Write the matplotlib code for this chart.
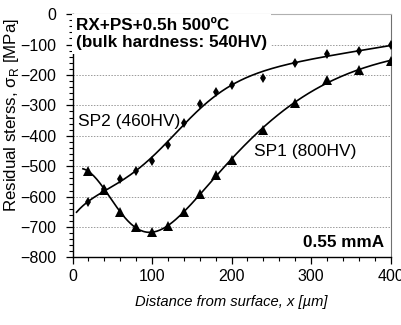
import matplotlib
matplotlib.use("Agg")
import matplotlib.pyplot as plt
import numpy as np
from matplotlib.ticker import MultipleLocator

plt.rcParams['font.family'] = ['Liberation Sans', 'DejaVu Sans']

x_sp2 = [20, 40, 60, 80, 100, 120, 140, 160, 180, 200, 240, 280, 320, 360, 400]
y_sp2 = [-618, -575, -543, -517, -482, -431, -358, -296, -255, -233, -211, -162, -131, -120, -102]

x_sp1 = [20, 40, 60, 80, 100, 120, 140, 160, 180, 200, 240, 280, 320, 360, 400]
y_sp1 = [-515, -579, -650, -701, -717, -697, -650, -590, -530, -478, -381, -291, -217, -184, -153]

yticks = [0, -100, -200, -300, -400, -500, -600, -700, -800]
xticks = [0, 100, 200, 300, 400]
grid_levels = [-100, -200, -300, -400, -500, -600, -700]


def basis(x, c, d, f, kind):
    x = np.asarray(x, float)
    cols = [np.ones_like(x), np.tanh((x - c) / d)]
    if kind == 'exp':
        cols += [np.exp(-x / f), x / 400]
    else:
        cols.append(np.exp(-(x / f) ** 2))
    return np.column_stack(cols)


def fit_curve(x, y, kind, d_min):
    # brute force over the nonlinear parameters, linear least squares for the rest
    best = None
    y = np.asarray(y, float)
    for c in np.linspace(60, 320, 53):
        for d in np.linspace(d_min, 300, 50):
            for f in np.linspace(20, 160, 29):
                A = basis(x, c, d, f, kind)
                coef, *_ = np.linalg.lstsq(A, y, rcond=None)
                err = np.sum((A @ coef - y) ** 2)
                if best is None or err < best[0]:
                    best = (err, c, d, f, coef)
    _, c, d, f, coef = best
    return lambda xx: basis(xx, c, d, f, kind) @ coef


curve_sp2 = fit_curve(x_sp2, y_sp2, 'exp', 75)
curve_sp1 = fit_curve(x_sp1, y_sp1, 'gauss', 30)
xs2 = np.linspace(5, 400, 200)
xs1 = np.linspace(13, 400, 200)

fig = plt.figure(figsize=(4.01, 3.25), dpi=100)
ax = fig.add_axes([0.181, 0.2077, 0.793, 0.7489])

for g in grid_levels:
    ax.axhline(g, color='#9a9a9a', lw=0.7, ls=(0, (1.5, 1.5)), zorder=0)

ax.plot(xs2, curve_sp2(xs2), color='black', lw=1.2, zorder=2)
ax.plot(xs1, curve_sp1(xs1), color='black', lw=1.2, zorder=2)
ax.plot(x_sp2, y_sp2, 'd', color='black', ms=5, mew=0, zorder=3)
ax.plot(x_sp1, y_sp1, '^', color='black', ms=6.5, mew=0, zorder=3)

ax.set_xlim(0, 400)
ax.set_ylim(-800, 0)
ax.set_xticks(xticks)
ax.set_yticks(yticks)
ax.xaxis.set_minor_locator(MultipleLocator(20))
ax.yaxis.set_minor_locator(MultipleLocator(20))
ax.tick_params(which='major', direction='out', length=5, width=0.9, labelsize=11.5)
ax.tick_params(which='minor', direction='out', length=3, width=0.8)
ax.tick_params(axis='x', which='major', pad=3)
ax.tick_params(axis='y', which='major', pad=7)

ax.spines['top'].set_color('#b0b0b0')
ax.spines['top'].set_linewidth(0.8)
ax.spines['right'].set_color('#707070')
ax.spines['left'].set_linewidth(1.0)
ax.spines['bottom'].set_linewidth(1.0)

ax.set_xlabel('Distance from surface, x [µm]', fontsize=10.6, style='italic')
ax.xaxis.set_label_coords(0.5, -0.155)
ax.set_ylabel('Residual sterss, σ$_\\mathregular{R}$ [MPa]', fontsize=12.2)
ax.yaxis.set_label_coords(-0.163, 0.585)

ax.text(4, -12, 'RX+PS+0.5h 500ºC\n(bulk hardness: 540HV)', fontsize=12.3, fontweight='bold',
        va='top', ha='left', linespacing=1.15, bbox=dict(facecolor='white', edgecolor='none', pad=3), zorder=4)
ax.text(7, -352, 'SP2 (460HV)', fontsize=12.5, va='center', ha='left',
        bbox=dict(facecolor='white', edgecolor='none', pad=2), zorder=1)
ax.text(228, -452, 'SP1 (800HV)', fontsize=12.5, va='center', ha='left', zorder=4)
ax.text(392, -752, '0.55 mmA', fontsize=12.3, fontweight='bold', va='center', ha='right', zorder=4)

fig.savefig('out.png', dpi=100)
